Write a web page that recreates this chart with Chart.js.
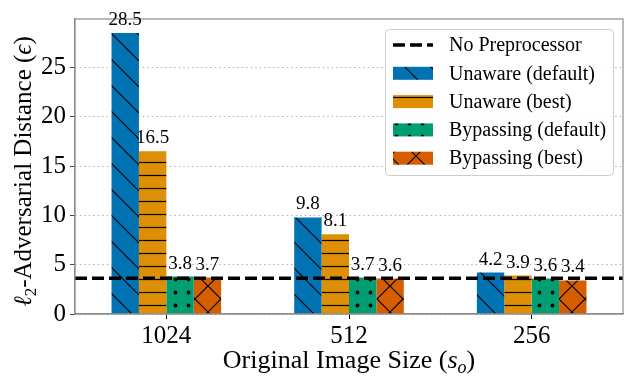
<!DOCTYPE html>
<html lang="en">
<head>
    <meta charset="UTF-8">
    <title>Adversarial Distance by Image Size</title>
    <script src="https://cdn.jsdelivr.net/npm/chart.js"></script>
    <style>
        html, body { margin: 0; padding: 0; background: #fff; }
        #grafico { width: 636px; height: 376px; }
    </style>
</head>
<body>
    <div id="grafico">
        <canvas id="grafico-info"></canvas>
    </div>
    <script>
        // data
        const sizes = ['1024', '512', '256'];
        const noPreprocessor = 3.62;
        const unawareDefault = [28.5, 9.8, 4.2];
        const unawareBest = [16.5, 8.1, 3.9];
        const bypassingDefault = [3.8, 3.7, 3.6];
        const bypassingBest = [3.7, 3.6, 3.4];
        const yTicks = [0, 5, 10, 15, 20, 25];
        const yMax = 29.925;

        const serif = "'Liberation Serif', 'Times New Roman', serif";

        // bars sit at x = 0, 1, 2 on a linear axis so the dashed line can span the whole width
        const asPoints = arr => arr.map((v, i) => ({ x: i, y: v }));

        function hatch(color, kind) {
            const s = (kind === 'hline' || kind === 'dots') ? 13 : 26;
            const c = document.createElement('canvas');
            c.width = s; c.height = s;
            const g = c.getContext('2d');
            g.fillStyle = color;
            g.fillRect(0, 0, s, s);
            g.strokeStyle = '#000';
            g.fillStyle = '#000';
            g.lineWidth = 1.2;
            if (kind === 'back' || kind === 'cross') {
                for (let k = -1; k <= 1; k++) {
                    g.beginPath(); g.moveTo(k * s, 0); g.lineTo(k * s + s, s); g.stroke();
                }
            }
            if (kind === 'cross') {
                for (let k = -1; k <= 1; k++) {
                    g.beginPath(); g.moveTo(k * s, s); g.lineTo(k * s + s, 0); g.stroke();
                }
            }
            if (kind === 'hline') {
                g.beginPath(); g.moveTo(0, 6.5); g.lineTo(s, 6.5); g.stroke();
            }
            if (kind === 'dots') {
                g.beginPath(); g.arc(6.5, 6.5, 1.9, 0, Math.PI * 2); g.fill();
            }
            return document.createElement('canvas').getContext('2d').createPattern(c, 'repeat');
        }

        // frame around the plot area + numbers over the bars
        const frameAndLabels = {
            id: 'frameAndLabels',
            afterDatasetsDraw(chart) {
                const ctx = chart.ctx;
                const a = chart.chartArea;
                ctx.save();
                ctx.strokeStyle = '#8c8c8c';
                ctx.lineWidth = 1.2;
                ctx.strokeRect(a.left, a.top, a.right - a.left, a.bottom - a.top);

                ctx.fillStyle = '#000';
                ctx.font = '19px ' + serif;
                ctx.textAlign = 'center';
                ctx.textBaseline = 'alphabetic';
                chart.data.datasets.forEach((ds, i) => {
                    if (ds.type === 'line') return;
                    const meta = chart.getDatasetMeta(i);
                    meta.data.forEach((bar, j) => {
                        ctx.fillText(ds.data[j].y.toFixed(1), bar.x, bar.y - 8);
                    });
                });
                ctx.restore();
            }
        };

        function drawParts(ctx, parts, x, y) {
            let total = 0;
            parts.forEach(p => { ctx.font = p.font; p.w = ctx.measureText(p.t).width; total += p.w; });
            let cx = x - total / 2;
            parts.forEach(p => {
                ctx.font = p.font;
                ctx.fillText(p.t, cx, y + (p.dy || 0));
                cx += p.w;
            });
        }

        // legend inside the axes and the axis titles (mixed italic / subscript)
        const legendAndTitles = {
            id: 'legendAndTitles',
            afterDraw(chart) {
                const ctx = chart.ctx;
                const a = chart.chartArea;
                ctx.save();

                const w = 228, h = 146;
                const lx = a.right - 10 - w, ly = a.top + 10;
                ctx.fillStyle = 'rgba(255,255,255,0.85)';
                ctx.strokeStyle = '#cccccc';
                ctx.lineWidth = 1;
                ctx.beginPath();
                ctx.roundRect(lx + 0.5, ly + 0.5, w, h, 4);
                ctx.fill();
                ctx.stroke();

                chart.data.datasets.forEach((ds, i) => {
                    const cy = ly + 16 + i * 28.3;
                    const px = lx + 8;
                    if (ds.type === 'line') {
                        ctx.strokeStyle = ds.borderColor;
                        ctx.lineWidth = ds.borderWidth;
                        ctx.setLineDash(ds.borderDash);
                        ctx.beginPath();
                        ctx.moveTo(px, cy); ctx.lineTo(px + 40, cy);
                        ctx.stroke();
                        ctx.setLineDash([]);
                    } else {
                        ctx.fillStyle = ds.backgroundColor;
                        ctx.fillRect(px, cy - 6.5, 40, 13);
                    }
                    ctx.fillStyle = '#000';
                    ctx.font = '20px ' + serif;
                    ctx.textAlign = 'left';
                    ctx.textBaseline = 'middle';
                    ctx.fillText(ds.label, lx + 64, cy + 1);
                });

                ctx.fillStyle = '#000';
                ctx.textAlign = 'left';
                ctx.textBaseline = 'alphabetic';
                const f = '26px ' + serif;
                const fi = 'italic 26px ' + serif;
                drawParts(ctx, [
                    { t: 'Original Image Size (', font: f },
                    { t: 's', font: fi },
                    { t: 'o', font: 'italic 18px ' + serif, dy: 5 },
                    { t: ')', font: f }
                ], (a.left + a.right) / 2, 368);

                const g = '25px ' + serif;
                const gi = 'italic 25px ' + serif;
                ctx.translate(31, (a.top + a.bottom) / 2 + 5);
                ctx.rotate(-Math.PI / 2);
                drawParts(ctx, [
                    { t: '\u2113', font: gi },
                    { t: '2', font: '17px ' + serif, dy: 5 },
                    { t: '-Adversarial Distance (', font: g },
                    { t: '\u03f5', font: gi },
                    { t: ')', font: g }
                ], 0, 0);
                ctx.restore();
            }
        };

        function criarGrafico() {
            const ctx = document.getElementById('grafico-info').getContext('2d');
            const config = {
                type: 'bar',
                data: {
                    datasets: [
                        {
                            type: 'line',
                            label: 'No Preprocessor',
                            data: [{ x: -0.5, y: noPreprocessor }, { x: sizes.length - 0.5, y: noPreprocessor }],
                            borderColor: '#000',
                            borderWidth: 3.5,
                            borderDash: [12, 5],
                            pointRadius: 0,
                            fill: false
                        },
                        { label: 'Unaware (default)', data: asPoints(unawareDefault), backgroundColor: hatch('#0173b2', 'back') },
                        { label: 'Unaware (best)', data: asPoints(unawareBest), backgroundColor: hatch('#de8f05', 'hline') },
                        { label: 'Bypassing (default)', data: asPoints(bypassingDefault), backgroundColor: hatch('#029e73', 'dots') },
                        { label: 'Bypassing (best)', data: asPoints(bypassingBest), backgroundColor: hatch('#d55e00', 'cross') }
                    ]
                },
                options: {
                    responsive: false,
                    animation: false,
                    maintainAspectRatio: false,
                    datasets: { bar: { categoryPercentage: 0.6, barPercentage: 1.0, borderWidth: 0 } },
                    layout: { padding: { top: 12, right: 13, left: 0, bottom: 0 } },
                    plugins: { legend: { display: false }, tooltip: { enabled: false } },
                    scales: {
                        x: {
                            type: 'linear',
                            min: -0.5,
                            max: sizes.length - 0.5,
                            offset: false,
                            afterBuildTicks: s => { s.ticks = sizes.map((_, i) => ({ value: i })); },
                            grid: { drawOnChartArea: false, offset: false, tickLength: 5, tickColor: '#000', tickWidth: 1 },
                            border: { color: '#8c8c8c', width: 1.2 },
                            ticks: { color: '#000', font: { family: serif, size: 25 }, padding: 2, callback: v => sizes[v] },
                            afterFit: s => { s.height = 62; }
                        },
                        y: {
                            min: 0,
                            max: yMax,
                            afterBuildTicks: s => { s.ticks = yTicks.map(v => ({ value: v })); },
                            ticks: { color: '#000', font: { family: serif, size: 25 }, padding: 4 },
                            grid: { color: '#b0b0b0', lineWidth: 1, tickLength: 5, tickColor: '#444', tickWidth: 1 },
                            border: { color: '#8c8c8c', width: 1.2, dash: [1.5, 3] },
                            afterFit: s => { s.width = 75; }
                        }
                    }
                },
                plugins: [frameAndLabels, legendAndTitles]
            };
            new Chart(ctx, config);
        }

        const cv = document.getElementById('grafico-info');
        cv.width = 636; cv.height = 376;
        cv.style.width = '636px'; cv.style.height = '376px';
        criarGrafico();
    </script>
</body>
</html>
